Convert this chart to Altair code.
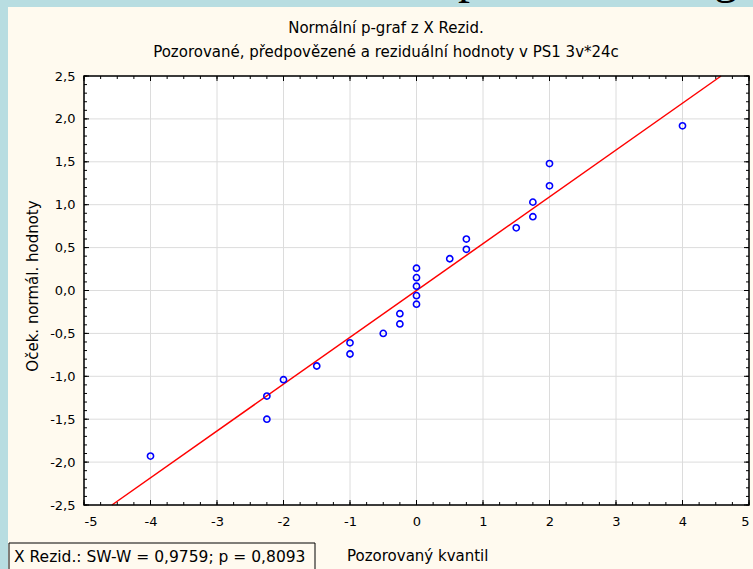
import altair as alt
import pandas as pd

# ---- data ----
obs_quantile = [4, 2, 2, 1.75, 1.75, 1.5, 0.75, 0.75, 0.5, 0, 0, 0, 0, 0,
                -0.25, -0.25, -0.5, -1, -1, -1.5, -2, -2.25, -2.25, -4]
exp_normal = [1.92, 1.48, 1.22, 1.03, 0.86, 0.73, 0.60, 0.48, 0.37, 0.26, 0.15, 0.05,
              -0.06, -0.16, -0.27, -0.39, -0.50, -0.61, -0.74, -0.88, -1.04, -1.23, -1.50, -1.93]
fit_x = [-4.58, 4.58]
fit_y = [-2.5, 2.5]

x_major = [-5, -4, -3, -2, -1, 0, 1, 2, 3, 4, 5]
y_major = [-2.5, -2.0, -1.5, -1.0, -0.5, 0.0, 0.5, 1.0, 1.5, 2.0, 2.5]
x_minor = [i / 4 for i in range(-20, 21)]
y_minor = [i / 10 for i in range(-25, 26)]

title_lines = ["Normální p-graf z X Rezid.",
               "Pozorované, předpovězené a reziduální hodnoty v PS1 3v*24c"]
x_title = "Pozorovaný kvantil"
y_title = "Oček. normál. hodnoty"
stats_text = "X Rezid.:  SW-W = 0,9759; p = 0,8093"
slide_glyphs = ["p", "g"]

# ---- style ----
W, H = 665, 429
PL, PT, PR, PB = 84, 76, 4, 64
BLUE = "#b8dde1"
CREAM = "#fffaef"
FONT = "DejaVu Sans"

xs = alt.Scale(domain=[-5, 5], nice=False, zero=False)
ys = alt.Scale(domain=[-2.5, 2.5], nice=False, zero=False)

x_axis = alt.Axis(values=x_major, title=None, grid=False, ticks=False, domain=False,
                  labelFont=FONT, labelFontSize=13, labelColor="black", labelPadding=10,
                  labelExpr="datum.value < 0 ? '-' + abs(datum.value) : '' + datum.value",
                  zindex=1)
y_axis = alt.Axis(values=y_major, title=None, grid=False, ticks=False, domain=False,
                  labelFont=FONT, labelFontSize=13, labelColor="black", labelPadding=9,
                  labelExpr="(datum.value < 0 ? '-' : '') + replace(format(abs(datum.value), '.1f'), '.', ',')",
                  zindex=1)


def X(f):
    return alt.X(f, type="quantitative", scale=xs, axis=x_axis)


def Y(f):
    return alt.Y(f, type="quantitative", scale=ys, axis=y_axis)


one = alt.Data(values=[{"a": 1}])

panel = alt.Chart(one).mark_rect(fill=CREAM).encode(
    x=alt.value(-(PL - 8)), x2=alt.value(W + PR), y=alt.value(-(PT - 7)), y2=alt.value(H + PB))
plot_bg = alt.Chart(one).mark_rect(fill="white").encode(
    x=alt.value(0), x2=alt.value(W), y=alt.value(0), y2=alt.value(H))

xmaj = pd.DataFrame({"v": x_major})
ymaj = pd.DataFrame({"v": y_major})
xmin = pd.DataFrame({"v": x_minor})
ymin = pd.DataFrame({"v": y_minor})

grid_v = alt.Chart(xmaj).mark_rule(color="#dcdcdc", strokeWidth=1).encode(
    x=X("v"), y=alt.value(0), y2=alt.value(H))
grid_h = alt.Chart(ymaj).mark_rule(color="#dcdcdc", strokeWidth=1).encode(
    y=Y("v"), x=alt.value(0), x2=alt.value(W))

fit = alt.Chart(pd.DataFrame({"x": fit_x, "y": fit_y})).mark_line(
    color="#ff0000", strokeWidth=1.5).encode(x=X("x"), y=Y("y"))

pts = alt.Chart(pd.DataFrame({"x": obs_quantile, "y": exp_normal})).mark_point(
    shape="circle", filled=False, color="#0000ff", size=38, strokeWidth=1.6, opacity=1
).encode(x=X("x"), y=Y("y"))

ticks = []
for df, ln in ((xmaj, 5), (xmin, 3)):
    ticks.append(alt.Chart(df).mark_rule(color="black").encode(
        x=X("v"), y=alt.value(H - ln), y2=alt.value(H)))
    ticks.append(alt.Chart(df).mark_rule(color="black").encode(
        x=X("v"), y=alt.value(0), y2=alt.value(ln)))
for df, ln in ((ymaj, 5), (ymin, 3)):
    ticks.append(alt.Chart(df).mark_rule(color="black").encode(
        y=Y("v"), x=alt.value(0), x2=alt.value(ln)))
    ticks.append(alt.Chart(df).mark_rule(color="black").encode(
        y=Y("v"), x=alt.value(W - ln), x2=alt.value(W)))

frame = alt.Chart(one).mark_rect(fill=None, stroke="black", strokeWidth=1.5).encode(
    x=alt.value(0), x2=alt.value(W), y=alt.value(0), y2=alt.value(H))


def label(txt, x, y, size=15, align="center", angle=0, font=FONT):
    return alt.Chart(alt.Data(values=[{"t": txt}])).mark_text(
        font=font, fontSize=size, align=align, baseline="alphabetic", angle=angle, color="black"
    ).encode(x=alt.value(x), y=alt.value(y), text="t:N")


t1 = label(title_lines[0], 386 - PL, 33 - PT)
t2 = label(title_lines[1], 386 - PL, 57 - PT)
xt = label(x_title, 347 - PL, 561 - PT, align="left")
yt = label(y_title, 38 - PL, 286 - PT, angle=270)

box = alt.Chart(one).mark_rect(fill=CREAM, stroke="black", strokeWidth=1).encode(
    x=alt.value(9 - PL), x2=alt.value(315 - PL), y=alt.value(543 - PT), y2=alt.value(H + PB + 5))
box_t = label(stats_text, 14 - PL, 562 - PT, align="left", size=15.5)

g1 = label(slide_glyphs[0], 470 - PL, -7 - PT, size=48, font="Liberation Serif")
g2 = label(slide_glyphs[1], 726 - PL, -7 - PT, size=48, font="Liberation Serif")

chart = alt.layer(
    panel, plot_bg, grid_v, grid_h, fit, pts, *ticks, frame,
    t1, t2, xt, yt, box, box_t, g1, g2
).properties(
    width=W, height=H,
    autosize=alt.AutoSizeParams(type="none"),
    padding={"left": PL, "top": PT, "right": PR, "bottom": PB},
    background=BLUE,
).configure_view(stroke=None)

chart.save("out.html", embed_options={"renderer": "svg", "actions": False})
